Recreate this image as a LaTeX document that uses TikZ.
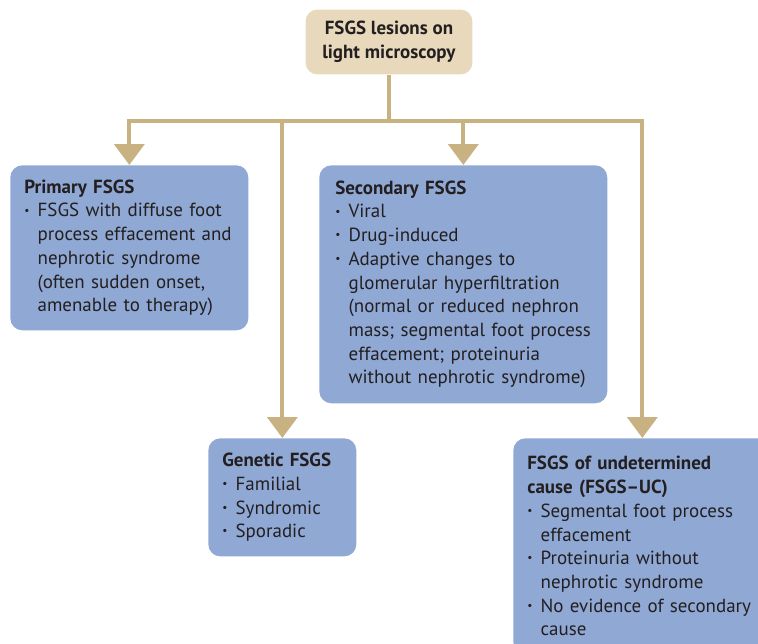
\documentclass[tikz,border=0pt]{standalone}
\usepackage{fontspec}
\setmainfont{PT Sans}
\usetikzlibrary{positioning,arrows.meta}
\definecolor{boxblue}{RGB}{143,168,212}
\definecolor{linetan}{RGB}{200,178,130}
\definecolor{toptan}{RGB}{232,216,188}
\definecolor{inktext}{RGB}{35,31,32}
\newcommand{\bul}{\makebox[0.7em][l]{\raisebox{0.3ex}{\scalebox{0.6}{•}}}}
\newcommand{\ind}{\hspace*{0.7em}}

\begin{document}
\begin{tikzpicture}[x=0.02cm, y=-0.02cm,
  box/.style={fill=boxblue, rounded corners=0.24cm, anchor=north west, align=left,
    font=\fontsize{10.8}{13.5}\selectfont, text=inktext, inner xsep=0.28cm},
  link/.style={draw=linetan, line width=0.08cm},
  arr/.style={link, -{Triangle[width=0.6cm,length=0.42cm]}}]
  \useasboundingbox (0,0) rectangle (758,643);

  % Nodes
  \node [box, fill=toptan, anchor=center, align=center, minimum width=3.34cm, minimum height=1.3cm] (top) at (389,42)
    {\textbf{FSGS lesions on}\\\textbf{light microscopy}};
  \node [box, text width=4.2cm, minimum height=3.3cm] (primary) at (10,165)
    {\textbf{Primary FSGS}\\
     \bul FSGS with diffuse foot\\
     \ind process effacement and\\
     \ind nephrotic syndrome\\
     \ind (often sudden onset,\\
     \ind amenable to therapy)};
  \node [box, text width=5.12cm, inner xsep=0.32cm, minimum height=4.76cm] (secondary) at (319,165)
    {\textbf{Secondary FSGS}\\
     \bul Viral\\
     \bul Drug-induced\\
     \bul Adaptive changes to\\
     \ind glomerular hyperfiltration\\
     \ind (normal or reduced nephron\\
     \ind mass; segmental foot process\\
     \ind effacement; proteinuria\\
     \ind without nephrotic syndrome)};
  \node [box, text width=2.4cm, minimum height=2.36cm] (genetic) at (208,438)
    {\textbf{Genetic FSGS}\\
     \bul Familial\\
     \bul Syndromic\\
     \bul Sporadic};
  \node [box, text width=4.6cm, inner ysep=0.36cm] (undet) at (513,438)
    {\textbf{FSGS of undetermined}\\
     \textbf{cause (FSGS–UC)}\\
     \bul Segmental foot process\\
     \ind effacement\\
     \bul Proteinuria without\\
     \ind nephrotic syndrome\\
     \bul No evidence of secondary\\
     \ind cause};

  % Connectors
  \coordinate (bar) at (389,121);
  \draw [link] (top.south) -- (bar);
  \draw [arr] (bar) -| (primary.north);
  \draw [arr] (bar) -| (undet.north);
  \draw [arr] (genetic.north |- bar) -- (genetic.north);
  \draw [arr] (secondary.north |- bar) -- (secondary.north);
\end{tikzpicture}
\end{document}
